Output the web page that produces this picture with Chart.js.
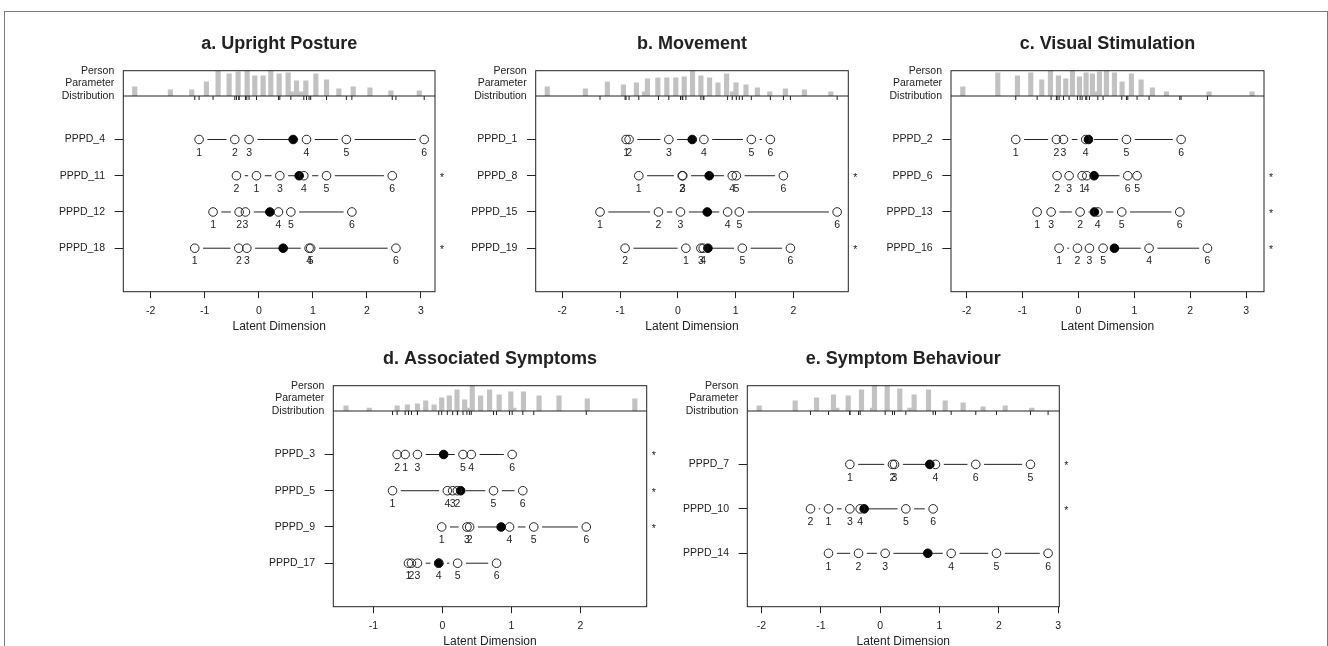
<!DOCTYPE html>
<html>
<head>
<meta charset="utf-8">
<script src="https://cdn.jsdelivr.net/npm/chart.js@4.4.1/dist/chart.umd.min.js"></script>
<style>
  html, body { margin: 0; padding: 0; background: #fff; overflow: hidden; }
  body { width: 1328px; height: 646px; position: relative; }
  #frame { position: absolute; left: 4px; top: 11px; width: 1322px; height: 700px;
           border: 1px solid #7a7c84; border-bottom: none; }
  canvas { position: absolute; }
</style>
</head>
<body>
<div id="frame"></div>
<script>
Chart.defaults.font.family = "'Liberation Sans', Arial, sans-serif";
Chart.defaults.font.size = 10.5;
Chart.defaults.color = '#222';
const INK = '#222';

const thresholdLabels = ['1', '2', '3', '4', '5', '6'];

// a. Upright Posture
const upItems = ['PPPD_4', 'PPPD_11', 'PPPD_12', 'PPPD_18'];
const upThresholds = [
  [-1.105, -0.444, -0.180, 0.883, 1.620, 3.060],
  [-0.043, -0.414, 0.389, 0.833, 1.253, 2.469],
  [-0.846, -0.364, -0.247, 0.364, 0.593, 1.722],
  [-1.185, -0.370, -0.222, 0.930, 0.960, 2.537]
];
const upLocations = [0.635, 0.747, 0.204, 0.451];
const upMisfit = [false, true, false, true];
const upPersonX = [-2.296, -1.636, -1.241, -0.969, -0.753, -0.549, -0.383, -0.216, -0.074, 0.080, 0.222, 0.377,
  0.543, 0.605, 0.698, 0.790, 0.870, 1.056, 1.253, 1.481, 1.747, 2.056, 2.444, 2.969];
const upPersonN = [9, 6, 6, 14, 25, 22, 24, 25, 20, 20, 25, 22, 23, 4, 15, 4, 15, 22, 16, 7, 9, 8, 5, 5];
const upTicks = [-2, -1, 0, 1, 2, 3];

// b. Movement
const mvItems = ['PPPD_1', 'PPPD_8', 'PPPD_15', 'PPPD_19'];
const mvThresholds = [
  [-0.896, -0.844, -0.156, 0.451, 1.272, 1.601],
  [-0.676, 0.075, 0.085, 0.942, 1.012, 1.827],
  [-1.347, -0.335, 0.046, 0.861, 1.064, 2.757],
  [0.139, -0.913, 0.399, 0.439, 1.116, 1.948]
];
const mvLocations = [0.249, 0.543, 0.509, 0.520];
const mvMisfit = [false, true, false, true];
const mvPersonX = [-2.260, -1.601, -1.220, -0.942, -0.717, -0.578, -0.526, -0.347, -0.191, -0.035, 0.110, 0.254,
  0.399, 0.549, 0.694, 0.844, 0.948, 1.006, 1.179, 1.376, 1.590, 1.861, 2.191, 2.647];
const mvPersonN = [9, 7, 14, 11, 13, 4, 17, 18, 18, 18, 19, 25, 20, 18, 13, 22, 4, 13, 11, 8, 4, 7, 6, 4];
const mvTicks = [-2, -1, 0, 1, 2];

// c. Visual Stimulation
const vsItems = ['PPPD_2', 'PPPD_6', 'PPPD_13', 'PPPD_16'];
const vsThresholds = [
  [-1.121, -0.394, -0.268, 0.131, 0.859, 1.837],
  [0.066, -0.382, -0.167, 0.149, 1.049, 0.883],
  [-0.739, 0.030, -0.489, 0.346, 0.775, 1.813],
  [-0.346, -0.018, 0.197, 1.264, 0.441, 2.308]
];
const vsLocations = [0.179, 0.280, 0.286, 0.644];
const vsMisfit = [false, true, true, true];
const vsPersonX = [-2.069, -1.443, -1.091, -0.853, -0.656, -0.501, -0.358, -0.227, -0.107, 0.018, 0.137, 0.250,
  0.310, 0.376, 0.501, 0.644, 0.781, 0.948, 1.121, 1.324, 1.574, 2.338, 3.107];
const vsPersonN = [9, 23, 20, 23, 16, 25, 20, 17, 25, 19, 23, 22, 4, 24, 25, 23, 14, 22, 16, 8, 4, 4, 4];
const vsTicks = [-2, -1, 0, 1, 2, 3];

// d. Associated Symptoms
const asItems = ['PPPD_3', 'PPPD_5', 'PPPD_9', 'PPPD_17'];
const asThresholds = [
  [-0.539, -0.655, -0.361, 0.419, 0.299, 1.011],
  [-0.722, 0.217, 0.149, 0.072, 0.741, 1.165],
  [-0.010, 0.395, 0.356, 0.973, 1.324, 2.085],
  [-0.491, -0.448, -0.361, -0.053, 0.221, 0.785]
];
const asLocations = [0.019, 0.265, 0.852, -0.053];
const asMisfit = [true, true, true, false];
const asPersonX = [-1.396, -1.059, -0.655, -0.506, -0.361, -0.241, -0.120, -0.010, 0.101, 0.212, 0.323, 0.366,
  0.433, 0.554, 0.684, 0.823, 0.992, 1.035, 1.175, 1.401, 1.690, 2.099, 2.788];
const asPersonN = [5, 3, 5, 6, 7, 10, 6, 13, 15, 21, 11, 3, 25, 15, 21, 16, 19, 3, 19, 15, 15, 12, 12];
const asTicks = [-1, 0, 1, 2];

// e. Symptom Behaviour
const sbItems = ['PPPD_7', 'PPPD_10', 'PPPD_14'];
const sbThresholds = [
  [-0.511, 0.208, 0.242, 0.933, 2.534, 1.612],
  [-0.871, -1.174, -0.511, -0.337, 0.433, 0.893],
  [-0.871, -0.365, 0.084, 1.197, 1.961, 2.831]
];
const sbLocations = [0.837, -0.270, 0.803];
const sbMisfit = [true, true, false];
const sbPersonX = [-2.039, -1.433, -1.073, -0.787, -0.730, -0.539, -0.315, -0.129, -0.096, 0.118, 0.331, 0.500,
  0.573, 0.815, 1.096, 1.399, 1.736, 2.107, 2.556];
const sbPersonN = [5, 10, 13, 16, 3, 15, 21, 3, 25, 25, 22, 3, 16, 21, 10, 8, 4, 5, 3];
const sbTicks = [-2, -1, 0, 1, 2, 3];

const panels = [
  {id: 'pa', title: 'a. Upright Posture', items: upItems, thresholds: upThresholds, locations: upLocations,
    misfit: upMisfit, personX: upPersonX, personN: upPersonN, ticks: upTicks,
    xMin: -2.507, xMax: 3.26, boxLeft: 123.3, top: 0, boxW: 311.7},
  {id: 'pb', title: 'b. Movement', items: mvItems, thresholds: mvThresholds, locations: mvLocations,
    misfit: mvMisfit, personX: mvPersonX, personN: mvPersonN, ticks: mvTicks,
    xMin: -2.46, xMax: 2.95, boxLeft: 535.7, top: 0, boxW: 312.6},
  {id: 'pc', title: 'c. Visual Stimulation', items: vsItems, thresholds: vsThresholds, locations: vsLocations,
    misfit: vsMisfit, personX: vsPersonX, personN: vsPersonN, ticks: vsTicks,
    xMin: -2.28, xMax: 3.32, boxLeft: 951, top: 0, boxW: 313},
  {id: 'pd', title: 'd. Associated Symptoms', items: asItems, thresholds: asThresholds, locations: asLocations,
    misfit: asMisfit, personX: asPersonX, personN: asPersonN, ticks: asTicks,
    xMin: -1.58, xMax: 2.96, boxLeft: 333.3, top: 315, boxW: 313.4},
  {id: 'pe', title: 'e. Symptom Behaviour', items: sbItems, thresholds: sbThresholds, locations: sbLocations,
    misfit: sbMisfit, personX: sbPersonX, personN: sbPersonN, ticks: sbTicks,
    xMin: -2.24, xMax: 3.02, boxLeft: 747.3, top: 315, boxW: 312}
];

const GAP = 8.3, AXIS_W = 120, PAD_TOP = 70.7, CANVAS_H = 340, X_H = 45;
const HIST_H = 25.3, ITEMS_H = 195.7;
const panelById = {};

function line(ctx, x1, y1, x2, y2) {
  ctx.beginPath();
  ctx.moveTo(x1, y1);
  ctx.lineTo(x2, y2);
  ctx.stroke();
}

const wrightMap = {
  id: 'wrightMap',
  beforeDatasetsDraw(chart) {
    // threshold lines, R type="b" style: gaps around each circle
    const p = panelById[chart.canvas.id];
    const ctx = chart.ctx, x = chart.scales.x, y = chart.scales.yItems;
    ctx.save();
    ctx.strokeStyle = INK;
    ctx.lineWidth = 1;
    p.thresholds.forEach((row, r) => {
      const py = y.getPixelForValue(r + 1);
      const xs = row.map(v => x.getPixelForValue(v)).sort((a, b) => a - b);
      for (let i = 1; i < xs.length; i++) {
        if (xs[i] - xs[i - 1] > 2 * GAP)
          line(ctx, xs[i - 1] + GAP, py, xs[i] - GAP, py);
      }
    });
    ctx.restore();
  },
  afterDatasetsDraw(chart) {
    const p = panelById[chart.canvas.id];
    const ctx = chart.ctx, x = chart.scales.x, y = chart.scales.yItems;
    const {left, right, top, bottom} = chart.chartArea;
    const base = chart.scales.yHist.getPixelForValue(0);
    ctx.save();
    ctx.strokeStyle = INK;
    ctx.lineWidth = 1;
    ctx.strokeRect(left, top, right - left, bottom - top);
    line(ctx, left, base, right, base);
    // rug of threshold positions under the distribution
    p.thresholds.flat().forEach(v => {
      const px = x.getPixelForValue(v);
      line(ctx, px, base, px, base + 4);
    });
    ctx.fillStyle = INK;
    ctx.font = "10.5px 'Liberation Sans', Arial, sans-serif";
    ctx.textAlign = 'center';
    ctx.textBaseline = 'middle';
    p.thresholds.forEach((row, r) => {
      const py = y.getPixelForValue(r + 1);
      row.forEach((v, k) => ctx.fillText(thresholdLabels[k], x.getPixelForValue(v), py + 13.3));
      if (p.misfit[r]) ctx.fillText('*', right + 7, py + 2);
    });
    ctx.textAlign = 'right';
    ctx.fillText('Person', left - 9, top + 0.5);
    ctx.fillText('Parameter', left - 9, (top + base) / 2);
    ctx.fillText('Distribution', left - 9, base);
    ctx.textAlign = 'center';
    ctx.font = "bold 18px 'Liberation Sans', Arial, sans-serif";
    ctx.fillText(p.title, (left + right) / 2, top - 26.7);
    ctx.restore();
  }
};

panels.forEach(p => {
  panelById[p.id] = p;
  const canvas = document.createElement('canvas');
  const cl = Math.floor(p.boxLeft - AXIS_W);
  const cw = Math.ceil(p.boxLeft + p.boxW + 30) - cl;
  canvas.id = p.id;
  canvas.width = cw;
  canvas.height = CANVAS_H;
  canvas.style.left = cl + 'px';
  canvas.style.top = p.top + 'px';
  canvas.style.width = cw + 'px';
  canvas.style.height = CANVAS_H + 'px';
  document.body.appendChild(canvas);

  const datasets = [{
    type: 'bar',
    data: p.personX.map((v, i) => ({x: v, y: p.personN[i]})),
    xAxisID: 'x',
    yAxisID: 'yHist',
    backgroundColor: '#c2c2c2',
    borderWidth: 0,
    barThickness: 4.5
  }];
  p.thresholds.forEach((row, r) => {
    datasets.push({
      type: 'scatter',
      data: row.map(v => ({x: v, y: r + 1})),
      xAxisID: 'x',
      yAxisID: 'yItems',
      pointRadius: 4.3,
      pointBorderWidth: 1,
      pointBorderColor: INK,
      pointBackgroundColor: 'rgba(0,0,0,0)',
      showLine: false
    });
  });
  datasets.push({
    type: 'scatter',
    data: p.locations.map((v, r) => ({x: v, y: r + 1})),
    xAxisID: 'x',
    yAxisID: 'yItems',
    pointRadius: 4.3,
    pointBorderWidth: 1,
    pointBorderColor: '#000',
    pointBackgroundColor: '#000',
    showLine: false
  });

  const padLeft = p.boxLeft - AXIS_W - cl;
  new Chart(canvas, {
    type: 'scatter',
    data: {datasets: datasets},
    plugins: [wrightMap],
    options: {
      responsive: false,
      devicePixelRatio: 1,
      animation: false,
      events: [],
      layout: {
        padding: {left: padLeft, right: cw - padLeft - AXIS_W - p.boxW, top: PAD_TOP,
          bottom: CANVAS_H - PAD_TOP - HIST_H - ITEMS_H - X_H}
      },
      plugins: {legend: {display: false}, tooltip: {enabled: false}, title: {display: false}},
      scales: {
        x: {
          type: 'linear', min: p.xMin, max: p.xMax, offset: false,
          afterBuildTicks: s => { s.ticks = p.ticks.map(v => ({value: v})); },
          ticks: {callback: v => String(v), padding: 7, color: INK, font: {size: 10.5}},
          grid: {offset: false, drawOnChartArea: false, drawTicks: true, tickLength: 6.5, color: INK},
          border: {display: false},
          title: {display: true, text: 'Latent Dimension', color: INK, font: {size: 12},
            padding: {top: 0, bottom: 2.5}},
          afterFit: s => { s.height = X_H; }
        },
        // items first so the distribution strip is stacked on top
        yItems: {
          type: 'linear', position: 'left', stack: 'map', stackWeight: ITEMS_H,
          reverse: true, min: -0.2, max: p.items.length + 1.2,
          afterBuildTicks: s => { s.ticks = p.items.map((_, i) => ({value: i + 1})); },
          ticks: {callback: v => p.items[v - 1], padding: 9.6, color: INK, font: {size: 10.5}},
          grid: {drawOnChartArea: false, drawTicks: true, tickLength: 8.7, color: INK},
          border: {display: false},
          afterFit: s => { s.width = AXIS_W; }
        },
        yHist: {
          type: 'linear', position: 'left', stack: 'map', stackWeight: HIST_H,
          min: 0, max: Math.max(...p.personN),
          ticks: {display: false},
          grid: {display: false},
          border: {display: false},
          afterFit: s => { s.width = AXIS_W; }
        }
      }
    }
  });
});
</script>
</body>
</html>
